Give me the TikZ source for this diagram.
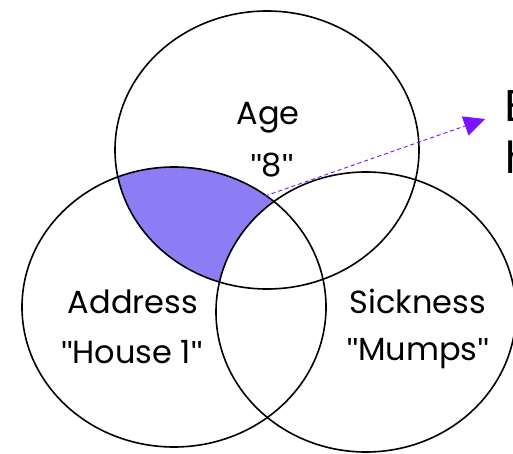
\documentclass[tikz,border=0pt]{standalone}
\usepackage{fontspec}
\setmainfont{Poppins}
\newfontfamily\cutfont{Liberation Sans}
\usetikzlibrary{arrows.meta}
\definecolor{vennfill}{RGB}{140,125,245}
\definecolor{violetline}{RGB}{120,20,255}
\newcommand{\sq}{{\cutfont\symbol{34}}}
\tikzset{
  venn/.style={draw=black, line width=1.6pt},
  lbl/.style={anchor=base, inner sep=0pt, font=\fontsize{32}{38}\selectfont},
  cut/.style={anchor=base west, inner sep=0pt, font=\cutfont\fontsize{45}{52}\selectfont},
  pointer/.style={violetline, line width=0.9pt, dash pattern=on 4pt off 3pt,
    -{Triangle[length=21pt,width=20pt]}}
}
\begin{document}
\begin{tikzpicture}[x=1pt,y=-1pt]
\useasboundingbox (0,0) rectangle (513,454);
\clip (0,0) rectangle (513,454);
% shaded region: Age and Address, without Sickness
\begin{scope}
  \clip (267,150) ellipse [x radius=152pt, y radius=139pt];
  \clip (174,307) ellipse [x radius=152pt, y radius=140pt];
  \fill[vennfill] (0,0) rectangle (513,454);
  \fill[white] (366,312) ellipse [x radius=150pt, y radius=140pt];
\end{scope}
% ellipses
\draw[venn] (267,150) ellipse [x radius=152pt, y radius=139pt];
\draw[venn] (174,307) ellipse [x radius=152pt, y radius=140pt];
\draw[venn] (366,312) ellipse [x radius=150pt, y radius=140pt];
% labels
\node[lbl] (age) at (268,125) {Age};
\node[lbl] (agev) at (272,177) {\sq8\sq};
\node[lbl] (addr) at (133,313) {Address};
\node[lbl] (addrv) at (132,363) {\sq House 1\sq};
\node[lbl] (sick) at (418,313) {Sickness};
\node[lbl] (sickv) at (418,360) {\sq Mumps\sq};
% cut-off text at right edge
\node[cut] (t1) at (504,122) {E};
\node[cut] (t2) at (505,174) {h};
% pointer
\coordinate (ps) at (265,196);
\coordinate (pe) at (485,119);
\draw[pointer] (ps) -- (pe);
\end{tikzpicture}
\end{document}
